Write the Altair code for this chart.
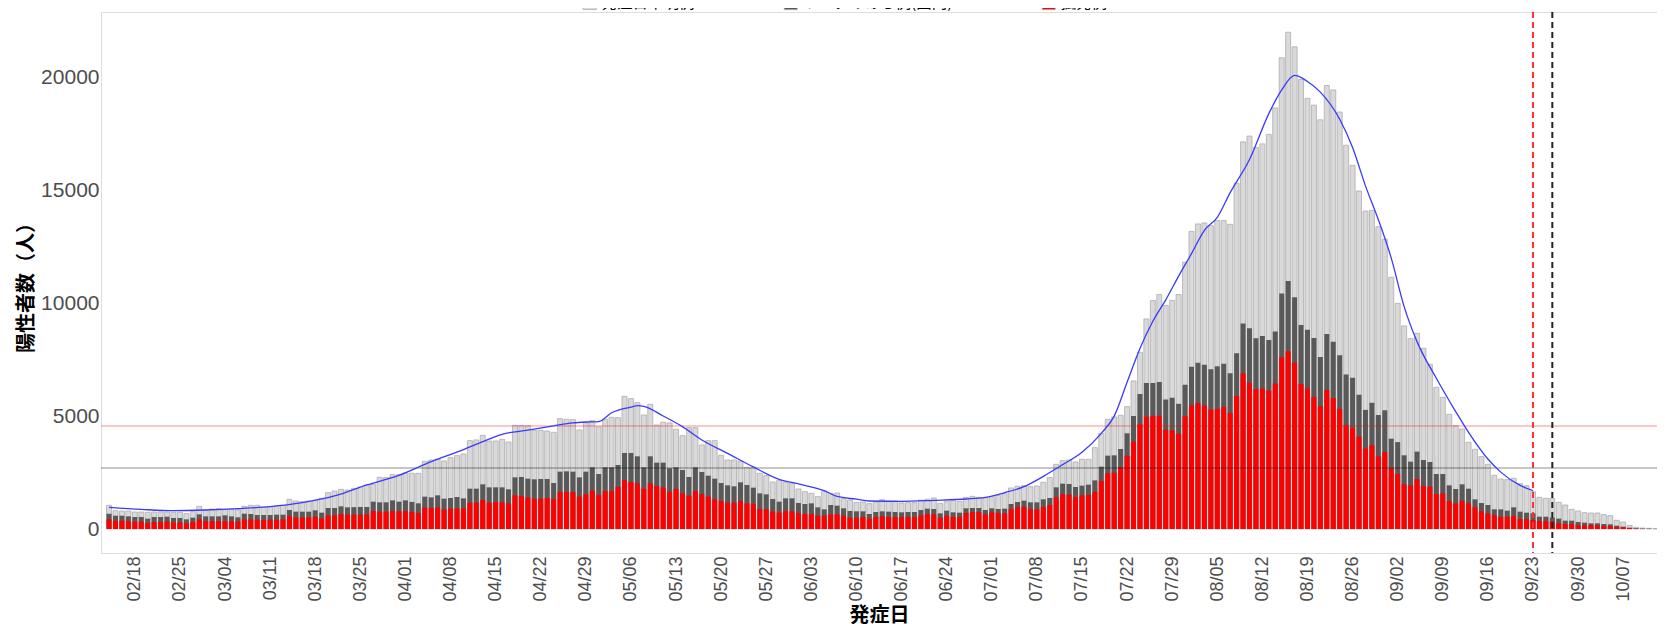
import altair as alt
import pandas as pd

# ---- data (onset dates 2021-02-14 .. 2021-10-12) ----
start_date = "2021-02-14"

# height of the whole bar (all cases)
total = [
    1049, 812, 798, 798, 753, 753, 739, 753, 753, 753, 739, 739, 679, 768, 1004, 842, 886, 901, 871, 871,
    857, 1004, 1049, 1049, 960, 990, 1019, 1049, 1315,
    1241, 1211, 1241, 1270, 1359, 1610, 1684, 1758, 1728, 1800, 1861, 1935, 1979, 2289, 2275, 2408, 2408,
    2481, 2470, 2467, 2998, 3057, 3102, 3013, 3161, 3249, 3323, 3914,
    3944, 4150, 3899, 3899, 3973, 3855, 4593, 4593, 4579, 4372, 4372, 4342, 4283, 4889, 4859, 4845, 4387,
    4712, 4800, 4520, 4859, 4948, 4933, 5878, 5775, 5598, 5051, 5524, 4608, 4726, 4697, 4416, 4136, 4490,
    4490, 3722, 3914, 3914, 3264, 3057, 3057, 3013, 2732, 2732, 2467, 2363, 2083, 2142, 2083, 2023, 1772,
    1654, 1580, 1433, 1669, 1580, 1595,
    1344, 1285, 1182, 1196, 1123, 1196, 1300, 1241, 1241, 1152, 1167, 1167, 1285, 1315, 1374, 1137, 1226,
    1255, 1226, 1403, 1447, 1403, 1388, 1433, 1492, 1566, 1817, 1891, 1920, 1876, 1905, 2068, 2275, 2865,
    3028, 3057, 2969, 3087, 3087, 3604, 4239, 4859, 4963, 5036, 5420, 6558, 7828, 9305, 10117,
    10386, 9905, 10130, 10386, 11814, 13181, 13512, 13557, 13437, 13662, 13662, 13497, 15316, 17149, 17405,
    16894, 17059, 17480, 18652, 20877, 22004, 21358, 19915, 19073, 18772, 18126, 19644, 19449, 18472, 16999,
    16112, 14970, 14083, 14113, 13392, 12836, 11152, 9995,
    8995, 8434, 8670, 8005, 7296, 6277, 5834, 5081, 4579, 4431, 3840, 3530, 3205, 2865, 2378, 2216, 2186,
    2245, 2009, 1920, 1654, 1403, 1359, 1359, 1182, 1063, 871, 798, 724, 709, 709, 635, 591, 384, 310, 162,
    74, 44, 30, 15,
]

# top of the dark segment (linked + isolated cases)
linked_plus_isolated = [
    679, 591, 591, 561, 532, 532, 458, 532, 532, 546, 487, 487, 428, 502, 650, 561, 561, 561, 606, 561,
    517, 679, 665, 620, 620, 620, 635, 635, 842,
    768, 768, 768, 827, 724, 931, 931, 1004, 960, 968, 975, 975, 1211, 1182, 1182, 1270, 1211, 1270, 1200,
    1137, 1433, 1403, 1492, 1344, 1374, 1418, 1359, 1787,
    1787, 1979, 1846, 1846, 1846, 1758, 2289, 2304, 2230, 2201, 2216, 2216, 2038, 2540, 2555, 2540, 2289,
    2540, 2732, 2437, 2732, 2732, 2836, 3368, 3368, 3220, 2732, 3220, 2939, 2939, 2688, 2732, 2614, 2304,
    2732, 2526, 2363, 2230, 2038, 1935, 1891, 2068, 1950, 1831, 1580, 1536, 1329, 1211, 1359, 1359, 1152,
    1108, 1137, 960, 871, 1063, 1034,
    916, 798, 783, 783, 665, 753, 783, 768, 753, 739, 753, 753, 842, 901, 886, 694, 812, 739, 724, 916,
    931, 931, 842, 916, 886, 901, 1108, 1196, 1255, 1182, 1182, 1314, 1374, 1846, 2009, 1994, 1861, 1920,
    1964, 2156, 2762, 3249, 3264, 3545, 4239, 5007, 5982, 6469, 6469,
    6508, 5741, 5817, 5546, 6388, 7184, 7365, 7274, 7079, 7214, 7320, 6899, 7786, 9108, 8898, 8447, 8552,
    8372, 8748, 10431, 10987, 10265, 9033, 8823, 8462, 7620, 8642, 8297, 7695, 6839, 6703, 5952, 5276,
    5591, 5050, 5261, 4000, 3850,
    3264, 2984, 3427, 3057, 2969, 2437, 2437, 1935, 1772, 1979, 1787, 1315, 1152, 1063, 871, 871, 812,
    960, 768, 724, 694, 546, 546, 502, 458, 369, 369, 310, 281, 251, 251, 222, 207, 148, 103, 59, 30, 15,
    10, 5,
]

# isolated cases (red)
isolated = [
    428, 369, 369, 354, 325, 340, 266, 310, 310, 340, 295, 295, 251, 310, 428, 354, 354, 354, 354, 340,
    340, 428, 428, 414, 399, 414, 414, 428, 576,
    517, 517, 517, 546, 473, 606, 606, 665, 635, 635, 635, 650, 798, 768, 768, 798, 783, 798, 760, 709,
    960, 931, 960, 871, 901, 916, 916, 1167,
    1167, 1285, 1167, 1196, 1182, 1137, 1492, 1462, 1403, 1344, 1344, 1374, 1329, 1654, 1639, 1639, 1433,
    1536, 1699, 1507, 1684, 1684, 1876, 2171, 2083, 2023, 1787, 2023, 1905, 1831, 1654, 1772, 1580, 1477,
    1684, 1551, 1433, 1315, 1241, 1167, 1167, 1241, 1137, 1123, 886, 871, 783, 724, 798, 783, 709, 665,
    665, 591, 591, 650, 650,
    591, 502, 502, 532, 458, 532, 576, 532, 532, 532, 546, 532, 606, 665, 650, 502, 591, 532, 532, 709,
    753, 753, 650, 739, 709, 694, 886, 975, 990, 886, 871, 975, 1063, 1403, 1551, 1521, 1418, 1492, 1507,
    1654, 2127, 2467, 2496, 2732, 3249, 3870, 4638, 4977, 5007,
    5020, 4404, 4374, 4223, 4990, 5471, 5576, 5471, 5291, 5321, 5411, 5140, 5892, 6899, 6478, 6192, 6222,
    6132, 6448, 7605, 7876, 7365, 6418, 6222, 5847, 5441, 6162, 5802, 5321, 4599, 4464, 4088, 3562, 3712,
    3216, 3412, 2675, 2436,
    1979, 1935, 2216, 1905, 1876, 1551, 1580, 1241, 1137, 1255, 1137, 960, 783, 694, 606, 546, 546, 576,
    443, 443, 399, 354, 354, 325, 251, 222, 222, 177, 162, 177, 162, 133, 133, 89, 74, 44, 15, 5, 5, 0,
]

# blue smoothing curve (days after 02/14, value)
smooth_day = [0, 5, 10, 15, 20, 25, 30, 35, 40, 45, 50, 55, 58, 61, 65, 69, 72, 74, 76, 78,
              81, 82, 83, 86, 89, 92, 96, 100, 104, 107, 111, 113, 116, 118, 123, 128, 133, 136, 139, 142,
              145, 148, 151, 154, 156, 158, 160, 162, 164, 166, 168, 170, 172, 174, 177, 180, 182, 184, 186, 188,
              191, 193, 195, 197, 199, 201, 203, 206, 209, 211, 214, 216, 219, 221]
smooth_val = [960, 871, 812, 842, 901, 990, 1167, 1462, 1950, 2378, 2984, 3515, 3870, 4195, 4380, 4570, 4700, 4740, 4760, 5150,
              5400, 5465, 5435, 5007, 4534, 3944, 3353, 2750, 2201, 1994, 1700, 1440, 1320, 1241, 1226, 1270, 1329, 1403, 1610, 1876,
              2330, 2850, 3400, 4239, 5000, 6500, 8000, 9200, 10150, 11200, 12200, 13230, 13800, 14900, 16368, 18400, 19450, 20095, 19825, 19350,
              18150, 16900, 15200, 13700, 12000, 9852, 8300, 6676, 5200, 4280, 3100, 2520, 1930, 1699]

series_names = ["発症日不明例", "リンクのある例(国内)", "孤発例"]
series_colors = ["#D9D9D9", "#595959", "#FF0000"]

tick_labels = ["02/18", "02/25", "03/04", "03/11", "03/18", "03/25", "04/01", "04/08", "04/15", "04/22",
               "04/29", "05/06", "05/13", "05/20", "05/27", "06/03", "06/10", "06/17", "06/24", "07/01",
               "07/08", "07/15", "07/22", "07/29", "08/05", "08/12", "08/19", "08/26", "09/02", "09/09",
               "09/16", "09/23", "09/30", "10/07"]

hline_red = [4563]
hline_grey = [2702]
vline_red = ["2021-09-23"]
vline_black = ["2021-09-26"]
minor_y = [2500, 7500, 12500, 17500, 22500]

# ---- build tables ----
start = pd.Timestamp(start_date)
dates = [(start + pd.Timedelta(days=k)).strftime("%Y-%m-%d") for k in range(len(total))]

def series_df(name, vals):
    return pd.DataFrame({"date": dates, "series": name, "value": vals})

df_light = series_df(series_names[0], total)
df_dark = series_df(series_names[1], linked_plus_isolated)
df_red = series_df(series_names[2], isolated)
df_smooth = pd.DataFrame({
    "date": [(start + pd.Timedelta(days=d)).strftime("%Y-%m-%d") for d in smooth_day],
    "value": smooth_val,
})

tick_ts = [pd.Timestamp("2021-" + t.replace("/", "-")) for t in tick_labels]
minor_x = [(t - pd.Timedelta(hours=84)).strftime("%Y-%m-%dT%H:%M:%SZ") for t in tick_ts[:1]] + \
          [(t + pd.Timedelta(hours=84)).strftime("%Y-%m-%dT%H:%M:%SZ") for t in tick_ts]

tick_values = [alt.DateTime(year=2021, month=t.month, date=t.day, utc=True) for t in tick_ts]

xscale = alt.Scale(
    type="utc",
    domain=[alt.DateTime(year=2021, month=2, date=13, hours=12, minutes=40, utc=True),
            alt.DateTime(year=2021, month=10, date=11, hours=11, minutes=17, utc=True)],
)
yscale = alt.Scale(domain=[-1063, 22901], nice=False, zero=False)

xaxis = alt.Axis(
    values=tick_values,
    labelExpr="utcFormat(datum.value, '%m/%d')",
    labelAngle=270,
    labelFontSize=18,
    labelFont="Liberation Sans",
    labelColor="#4D4D4D",
    labelPadding=3,
    ticks=False,
    domain=False,
    grid=True,
    gridColor="#FFFFFF",
    gridWidth=1,
    gridOpacity=0.7,
    title="発症日",
    titleFont="Noto Sans CJK JP",
    titleFontSize=20,
    titleFontWeight="bold",
    titleColor="#000000",
    titlePadding=4,
)
yaxis = alt.Axis(
    values=[0, 5000, 10000, 15000, 20000],
    format="d",
    labelFontSize=21,
    labelFont="Liberation Sans",
    labelColor="#4D4D4D",
    labelPadding=2,
    ticks=False,
    domain=False,
    grid=True,
    gridColor="#FFFFFF",
    gridWidth=1,
    gridOpacity=0.8,
    title="陽性者数（人）",
    titleFont="Noto Sans CJK JP",
    titleFontSize=20,
    titleFontWeight="bold",
    titleColor="#000000",
    titleX=-75,
    titleBaseline="middle",
)

X = alt.X("date:T", scale=xscale, axis=xaxis)
Y = alt.Y("value:Q", scale=yscale, axis=yaxis, stack=None)

color_scale = alt.Scale(domain=series_names, range=series_colors)
legend = alt.Legend(
    orient="none",
    legendX=481,
    legendY=-17,
    direction="horizontal",
    title=None,
    symbolType="square",
    symbolSize=170,
    symbolStrokeColor="#ADADAD",
    symbolStrokeWidth=0.8,
    labelFontSize=15.5,
    labelFont="Noto Sans CJK JP",
    labelColor="#000000",
    labelOffset=4,
    labelLimit=400,
    columnPadding=87,
    padding=0,
)
C = alt.Color("series:N", scale=color_scale, legend=legend)

minor = alt.Chart(pd.DataFrame({"value": minor_y})).mark_rule(
    color="#FFFFFF", strokeWidth=0.6, opacity=0.6
).encode(y=Y)
minor_v = alt.Chart(pd.DataFrame({"date": minor_x})).mark_rule(
    color="#FFFFFF", strokeWidth=0.6, opacity=0.5
).encode(x=X)

light = alt.Chart(df_light).mark_bar(
    size=5, stroke="#ADADAD", strokeWidth=0.8, clip=True
).encode(x=X, y=Y, color=C)
dark = alt.Chart(df_dark).mark_bar(size=5, clip=True).encode(x=X, y=Y, color=C)
red = alt.Chart(df_red).mark_bar(size=5, clip=True).encode(x=X, y=Y, color=C)

h_red = alt.Chart(pd.DataFrame({"value": hline_red})).mark_rule(
    color="#FF0000", opacity=0.45, strokeWidth=1
).encode(y=Y)
h_grey = alt.Chart(pd.DataFrame({"value": hline_grey})).mark_rule(
    color="#000000", opacity=0.3, strokeWidth=1.6
).encode(y=Y)

smooth = alt.Chart(df_smooth).mark_line(
    color="#3A3AFF", strokeWidth=1.3, interpolate="monotone"
).encode(x=X, y=Y)

v_red = alt.Chart(pd.DataFrame({"date": vline_red})).mark_rule(
    color="#FF3333", strokeWidth=2, strokeDash=[6, 4]
).encode(x=X)
v_black = alt.Chart(pd.DataFrame({"date": vline_black})).mark_rule(
    color="#222222", strokeWidth=2, strokeDash=[6, 4]
).encode(x=X)

chart = alt.layer(
    minor, minor_v, light, dark, red, h_red, h_grey, smooth, v_red, v_black
).properties(
    width=1556,
    height=541,
    autosize=alt.AutoSizeParams(type="none"),
    padding={"left": 93, "top": 4, "right": 0, "bottom": 80},
).configure_view(
    fill="#EBEBEB", strokeWidth=0
).configure(
    background="#FFFFFF", font="Liberation Sans"
)

chart.save("out.html", embed_options={"renderer": "svg", "actions": False})
